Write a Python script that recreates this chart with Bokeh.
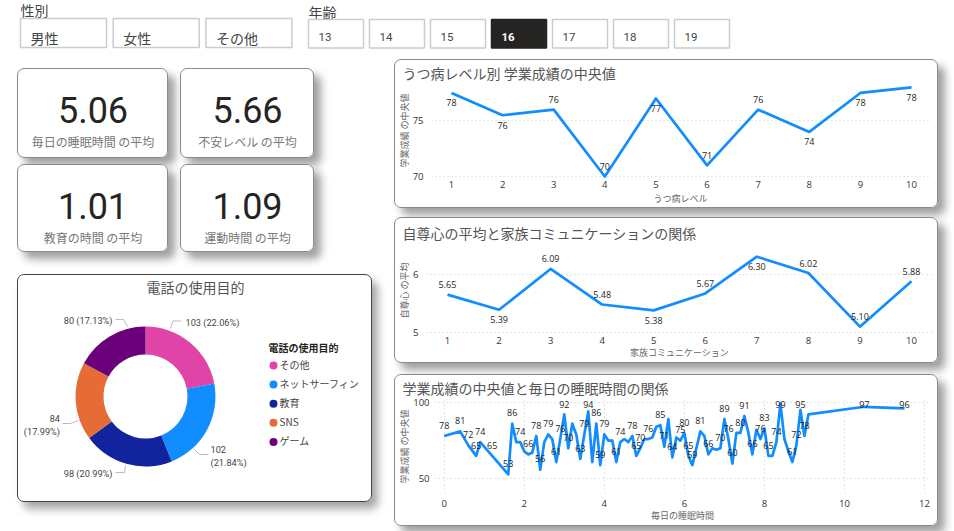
from bokeh.core.properties import value
from bokeh.embed import file_html
from bokeh.models import Column, ColumnDataSource, FixedTicker, Range1d
from bokeh.plotting import figure
from bokeh.resources import INLINE

JP = "Noto Sans CJK JP"
LATIN = "Open Sans"
DIN = "Roboto"
BLUE = "#118DFF"

# data
genders = ["男性", "女性", "その他"]
ages = ["13", "14", "15", "16", "17", "18", "19"]
selected_age = "16"

kpi_values = ["5.06", "5.66", "1.01", "1.09"]
kpi_names = ["毎日の睡眠時間 の平均", "不安レベル の平均", "教育の時間 の平均", "運動時間 の平均"]

purposes = ["その他", "ネットサーフィン", "教育", "SNS", "ゲーム"]
purpose_counts = [103, 102, 98, 84, 80]
purpose_colors = ["#E044A7", "#118DFF", "#12239E", "#E66C37", "#6B007B"]

depression_level = [1, 2, 3, 4, 5, 6, 7, 8, 9, 10]
depression_score = [77.5, 75.5, 76, 70, 77, 71, 76, 74, 77.5, 78]

family_comm = [1, 2, 3, 4, 5, 6, 7, 8, 9, 10]
self_esteem = [5.65, 5.39, 6.09, 5.48, 5.38, 5.67, 6.30, 6.02, 5.10, 5.88]

sleep_hours = [0, 0.4, 0.6, 0.8, 0.9, 1.2, 1.6, 1.7, 1.8, 1.9, 2.0, 2.1, 2.2, 2.3, 2.4, 2.5, 2.6, 2.7, 2.8, 2.9,
               3.0, 3.1, 3.2, 3.3, 3.4, 3.5, 3.6, 3.7, 3.8, 3.9, 4.0, 4.1, 4.2, 4.3, 4.4, 4.5, 4.6, 4.7, 4.8, 4.9,
               5.0, 5.1, 5.2, 5.3, 5.4, 5.5, 5.6, 5.7, 5.8, 5.9, 6.0, 6.1, 6.2, 6.3, 6.4, 6.5, 6.6, 6.7, 6.8, 6.9,
               7.0, 7.1, 7.2, 7.3, 7.4, 7.5, 7.6, 7.7, 7.8, 7.9, 8.0, 8.1, 8.2, 8.3, 8.4, 8.5, 8.6, 8.7, 8.8, 8.9,
               9.0, 9.1, 10.5, 11.5]
sleep_score = [78, 81, 72, 65, 74, 65, 53, 86, 74, 74, 68, 66, 67, 78, 56, 74, 79, 76, 61, 76,
               92, 70, 86, 79, 63, 79, 94, 61, 86, 59, 79, 75, 75, 61, 74, 76, 74, 78, 65, 70,
               76, 76, 77, 84, 85, 71, 89, 64, 77, 75, 80, 65, 59, 70, 81, 78, 66, 70, 69, 70,
               89, 76, 60, 80, 80, 91, 80, 66, 82, 76, 83, 65, 65, 74, 99, 76, 68, 61, 72, 95,
               78, 92, 97, 96]
# hours whose point has no data label in the chart
sleep_unlabelled = [1.8, 2.0, 2.2, 2.5, 2.7, 3.2, 3.3, 3.7, 4.1, 4.2, 4.5, 4.6, 5.0, 5.2, 5.3, 5.6, 5.8,
                    6.3, 6.5, 6.7, 6.8, 7.3, 7.6, 7.8, 8.2, 8.5, 8.6, 9.1]


def card(x, y, w, h, border="#8a8a8a", shadow="7px 7px 9px rgba(0,0,0,0.38)", radius=7, **kw):
    # figure placed at reference pixel position, background/shadow done with css
    styles = {"position": "absolute", "left": f"{x}px", "top": f"{y}px"}
    if border:
        styles.update({"background-color": "white", "border-radius": f"{radius}px",
                       "box-shadow": shadow, "outline": f"1px solid {border}", "outline-offset": "-1px"})
    p = figure(width=w, height=h, output_backend="svg", toolbar_location=None, styles=styles,
               frame_align=False, **kw)
    p.border_fill_color = None
    p.background_fill_color = None
    p.outline_line_color = None
    return p


def pixel_card(x, y, w, h, **kw):
    # axes hidden, data units are reference pixels
    p = card(x, y, w, h, x_range=Range1d(x, x + w), y_range=Range1d(y + h, y),
             x_axis_location=None, y_axis_location=None,
             min_border_left=0, min_border_right=0, min_border_top=0, min_border_bottom=0, **kw)
    p.grid.visible = False
    return p


def put_text(p, x, y, text, size, color, font=JP, align="left", style="normal"):
    # the CJK font sits a bit low on a "middle" baseline
    y = y - 1.5 if font == JP else y
    p.text([x], [y], text=[text], text_font=value(font), text_font_size=f"{size}px", text_color=color,
           text_align=align, text_baseline="middle", text_font_style=style)


def line_card(x, y, w, h, frame, xs, ys, title, xlabel, ylabel, xticks, yticks, x_anchor, y_anchor,
              standoffs, vgrid=False, title_standoff=0):
    # frame = left, right, top, bottom in reference px; anchors = (value, px) pairs fixing the scales
    fl, fr, ft, fb = frame
    (x0, px0), (x1, px1) = x_anchor
    (y0, py0), (y1, py1) = y_anchor
    xs_per_px = (x1 - x0) / (px1 - px0)
    ys_per_px = (y1 - y0) / (py1 - py0)
    p = card(x, y, w, h, title=title,
             x_range=Range1d(x0 + (fl - px0) * xs_per_px, x0 + (fr - px0) * xs_per_px),
             y_range=Range1d(y0 + (fb - py0) * ys_per_px, y0 + (ft - py0) * ys_per_px),
             min_border_left=fl - x, min_border_right=x + w - fr,
             min_border_top=ft - y, min_border_bottom=y + h - fb)
    p.title.text_font = JP
    p.title.text_font_size = "14px"
    p.title.text_font_style = "normal"
    p.title.text_color = "#555555"
    p.title.offset = x + 8 - fl
    p.title.standoff = title_standoff

    p.xaxis.ticker = FixedTicker(ticks=xticks)
    p.yaxis.ticker = FixedTicker(ticks=yticks)
    p.xaxis.axis_label = xlabel
    p.yaxis.axis_label = ylabel
    for ax in p.xaxis + p.yaxis:
        ax.axis_line_color = None
        ax.major_tick_line_color = None
        ax.minor_tick_line_color = None
        ax.major_tick_out = 0
        ax.major_tick_in = 0
        ax.minor_tick_out = 0
        ax.major_label_text_font = LATIN
        ax.major_label_text_font_size = "9.5px"
        ax.major_label_text_color = "#333333"
        ax.axis_label_text_font = JP
        ax.axis_label_text_font_size = "9px"
        ax.axis_label_text_font_style = "normal"
        ax.axis_label_text_color = "#666666"
    xs_tick, xs_label, ys_tick, ys_label = standoffs
    p.xaxis.major_label_standoff = xs_tick
    p.xaxis.axis_label_standoff = xs_label
    p.yaxis.major_label_standoff = ys_tick
    p.yaxis.axis_label_standoff = ys_label
    p.ygrid.grid_line_color = "#cccccc"
    p.ygrid.grid_line_dash = "1 3"
    p.xgrid.grid_line_color = "#cccccc" if vgrid else None
    p.xgrid.grid_line_dash = "1 3"

    p.line(xs, ys, line_color=BLUE, line_width=2.7, line_join="round")
    return p


def add_labels(p, xs, ys, texts, offsets, size="9px"):
    src = ColumnDataSource(dict(x=xs, y=ys, t=texts, off=offsets))
    p.text("x", "y", text="t", y_offset="off", source=src, text_font=value(LATIN), text_font_size=size,
           text_color="#252423", text_align="center", text_baseline="middle")


# filter buttons
slicers = pixel_card(0, 0, 740, 56, border=None)
put_text(slicers, 20, 11, "性別", 14, "#444444")
put_text(slicers, 308, 13, "年齢", 14, "#444444")
for i, g in enumerate(genders):
    left = 20 + i * 92.7
    slicers.quad(left=left, right=left + 86, top=18, bottom=47, fill_color="white",
                 line_color="#cccccc", line_width=1.5)
    put_text(slicers, left + 10, 39, g, 14, "#444444")
for i, a in enumerate(ages):
    left = 308 + i * 61
    on = a == selected_age
    slicers.quad(left=left, right=left + 55, top=19, bottom=47.5, fill_color="#252423" if on else "white",
                 line_color="#252423" if on else "#cccccc", line_width=1.5)
    put_text(slicers, left + 10, 36, a, 11.5, "white" if on else "#444444", font=DIN,
             style="bold" if on else "normal")

# kpi cards
kpi_boxes = [(17, 68, 151, 90), (180, 68, 134, 90), (17, 164, 151, 88), (180, 164, 134, 88)]
figs = [slicers]
for (x, y, w, h), v, name in zip(kpi_boxes, kpi_values, kpi_names):
    c = pixel_card(x, y, w, h)
    put_text(c, x + w / 2, y + 41.5, v, 36, "#252423", font=DIN, align="center")
    put_text(c, x + w / 2, y + 74, name, 12, "#777777", align="center")
    figs.append(c)

# donut
donut = pixel_card(17, 274, 355, 228, border="#444444", shadow="6px 7px 8px rgba(0,0,0,0.35)")
put_text(donut, 195, 288, "電話の使用目的", 14, "#555555", align="center")
total = sum(purpose_counts)
shares = [n / total for n in purpose_counts]
starts, ends = [], []
acc = 0
for s in shares:
    starts.append(1.5708 - acc * 6.28318)
    acc += s
    ends.append(1.5708 - acc * 6.28318)
donut.annular_wedge(x=145, y=396, inner_radius=42, outer_radius=70, start_angle=starts, end_angle=ends,
                    direction="clock", fill_color=purpose_colors, line_color=None)

# leader lines and where their labels sit, same order as purposes
leaders = [([170, 172.5, 181], [328, 320.5, 320.5]), ([193, 199, 208], [448, 454, 454]),
           ([125, 124, 115], [465, 472, 472]), ([78, 70, 62], [420, 423, 423]),
           ([127, 123, 115], [326, 319, 319])]
label_anchor = [(185, 321.5, "left", False), (210, 449, "left", True), (112, 473, "right", False),
                (59.5, 418, "right", True), (112, 320, "right", False)]
for (lx, ly), (tx, ty, al, wrap), n, s in zip(leaders, label_anchor, purpose_counts, shares):
    donut.line(lx, ly, line_color="#bbbbbb", line_width=1)
    if wrap:
        put_text(donut, tx, ty, str(n), 9.2, "#444444", font=DIN, align=al)
        put_text(donut, tx, ty + 12.5, f"({s * 100:.2f}%)", 9.2, "#444444", font=DIN, align=al)
    else:
        put_text(donut, tx, ty, f"{n} ({s * 100:.2f}%)", 9.2, "#444444", font=DIN, align=al)

put_text(donut, 268, 348, "電話の使用目的", 10, "#252423", style="bold")
for i, (name, col) in enumerate(zip(purposes, purpose_colors)):
    ly = 365 + i * 19.1
    donut.scatter([273], [ly], size=8, marker="circle", fill_color=col, line_color=None)
    put_text(donut, 279, ly, name, 10, "#444444")
figs.append(donut)

# line charts
c1 = line_card(394, 59, 544, 149, (431, 929, 82, 178), depression_level, depression_score,
               "うつ病レベル別 学業成績の中央値", "うつ病レベル", "学業成績 の中央値",
               depression_level, [70, 75], ((1, 451), (10, 911)), ((70, 176), (75, 120.3)),
               standoffs=(2, 1, 8, -1))
add_labels(c1, depression_level, depression_score, [f"{v:.0f}" for v in depression_score],
           [10, 10, -10, -10, 10, -10, -10, 10, 10, 10])
figs.append(c1)

c2 = line_card(394, 217, 544, 146, (426, 932, 245, 334), family_comm, self_esteem,
               "自尊心の平均と家族コミュニケーションの関係", "家族コミュニケーション", "自尊心 の平均",
               family_comm, [5, 6], ((1, 447), (10, 911)), ((5, 332), (6, 273)),
               standoffs=(2, -1, 8, -1), title_standoff=7)
add_labels(c2, family_comm, self_esteem, [f"{v:.2f}" for v in self_esteem],
           [-10, 10, -10, -10, 10, -10, 10, -10, -10, -10])
figs.append(c2)

c3 = line_card(394, 374, 544, 152, (434, 930, 398, 493), sleep_hours, sleep_score,
               "学業成績の中央値と毎日の睡眠時間の関係", "毎日の睡眠時間", "学業成績 の中央値",
               [0, 2, 4, 6, 8, 10, 12], [50, 100], ((0, 443.7), (12, 924)), ((50, 478.3), (100, 400.7)),
               standoffs=(6, -1, 5, -1), vgrid=True, title_standoff=3)
shown = [i for i, h in enumerate(sleep_hours) if h not in sleep_unlabelled]
add_labels(c3, [sleep_hours[i] for i in shown], [min(sleep_score[i] + 7, 98.3) for i in shown],
           [str(sleep_score[i]) for i in shown], [0] * len(shown))
figs.append(c3)

root = Column(children=figs, width=938, height=515, sizing_mode="fixed")

open("out.html", "w", encoding="utf-8").write(file_html(root, INLINE))
